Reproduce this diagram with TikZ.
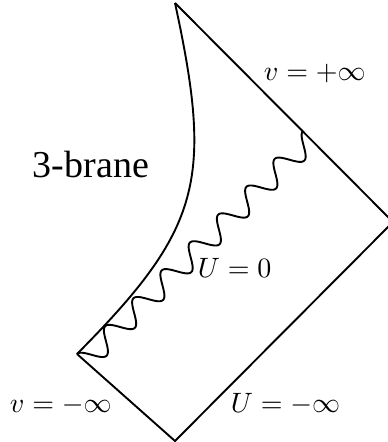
\documentclass[tikz,border=0pt]{standalone}
\usepackage[no-math]{fontspec}
\setmainfont{Liberation Serif}
\usepackage{graphicx}
\newcommand{\bigmath}[1]{\scalebox{2.8}{$#1$}}
\begin{document}
\begin{tikzpicture}[x=1pt,y=-1pt,line width=1.9pt,line join=miter,
  mathlabel/.style={anchor=base west,inner sep=0pt},
  textlabel/.style={anchor=base west,inner sep=0pt,font=\fontsize{38}{44}\selectfont}]
\useasboundingbox (0,0) rectangle (388,442);
\coordinate (T) at (175,3);
\coordinate (R) at (393,222);
\coordinate (B) at (175,441);
\coordinate (L) at (77,354);
\coordinate (E) at (303,131);
% null boundaries
\draw (T) -- (R) -- (B) -- (L);
% brane
\draw (T) .. controls (213.4,180.6) and (201.3,228.7) .. (L);
% horizon U=0 (wavy), from L to E: 8 periods
\begin{scope}[shift={(L)},rotate=44.62]
\draw plot[domain=0:317.5,samples=400,smooth] (\x,{11*(1-cos(\x*9.0709))});
\end{scope}
% labels
\node[textlabel] (brane) at (32,177) {3-brane};
\node[mathlabel] (vp) at (263,80) {\bigmath{v=+\infty}};
\node[mathlabel] (u0) at (197,277) {\bigmath{U=0}};
\node[mathlabel] (vm) at (9,412) {\bigmath{v=-\infty}};
\node[mathlabel] (um) at (230,412) {\bigmath{U=-\infty}};
\end{tikzpicture}
\end{document}
